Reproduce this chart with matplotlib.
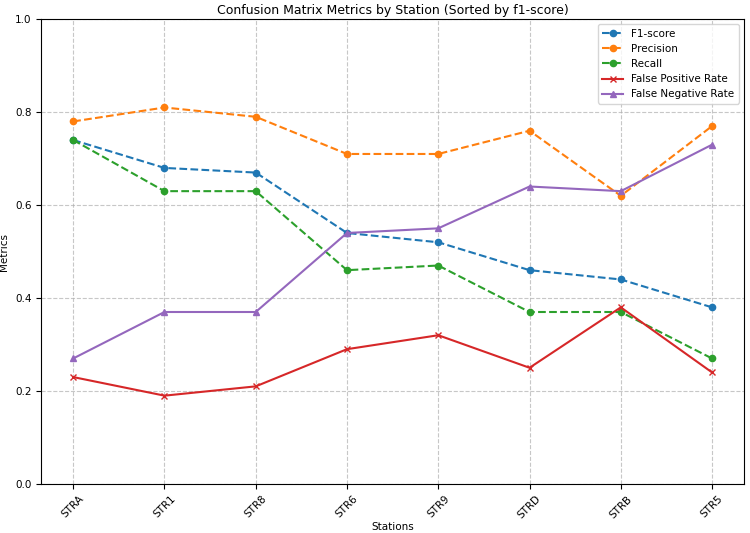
import matplotlib
matplotlib.use('Agg')
import matplotlib.pyplot as plt

stations = ['STRA', 'STR1', 'STR8', 'STR6', 'STR9', 'STRD', 'STRB', 'STR5']
f1 = [0.74, 0.68, 0.67, 0.54, 0.52, 0.46, 0.44, 0.38]
precision = [0.78, 0.81, 0.79, 0.71, 0.71, 0.76, 0.62, 0.77]
recall = [0.74, 0.63, 0.63, 0.46, 0.47, 0.37, 0.37, 0.27]
fpr = [0.23, 0.19, 0.21, 0.29, 0.32, 0.25, 0.38, 0.24]
fnr = [0.27, 0.37, 0.37, 0.54, 0.55, 0.64, 0.63, 0.73]

plt.rcParams['font.size'] = 7.5

fig, ax = plt.subplots(figsize=(7.5, 5.33), dpi=100)
ax.plot(stations, f1, 'o--', label='F1-score', markersize=4.5)
ax.plot(stations, precision, 'o--', label='Precision', markersize=4.5)
ax.plot(stations, recall, 'o--', label='Recall', markersize=4.5)
ax.plot(stations, fpr, 'x-', label='False Positive Rate', markersize=4.5)
ax.plot(stations, fnr, '^-', label='False Negative Rate', markersize=4.5)

ax.set_ylim(0, 1)
ax.set_title('Confusion Matrix Metrics by Station (Sorted by f1-score)', fontsize=9, pad=4)
ax.set_xlabel('Stations', labelpad=1)
ax.set_ylabel('Metrics')
plt.xticks(rotation=45)
ax.grid(True, linestyle='--', alpha=0.7)
ax.legend(loc='upper right')

plt.subplots_adjust(left=0.055, right=0.992, top=0.964, bottom=0.092)
plt.savefig('out.png')
